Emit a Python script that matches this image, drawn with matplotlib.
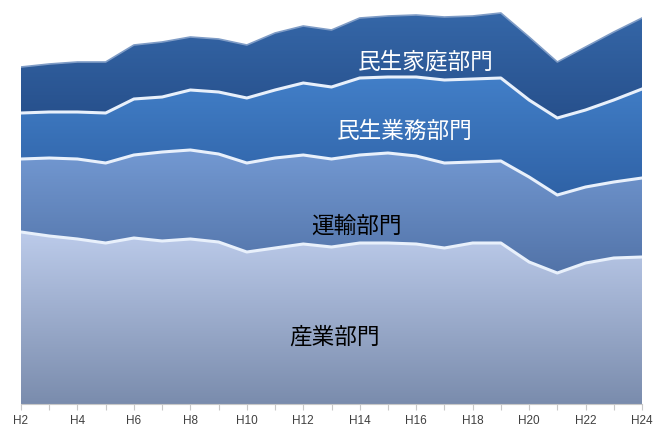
import numpy as np
import matplotlib.pyplot as plt
from matplotlib.colors import LinearSegmentedColormap

plt.rcParams['font.family'] = ['Noto Sans CJK JP', 'DejaVu Sans']

# 年度 (平成)
years = list(range(2, 25))

# 部門別の排出量 (目盛りなし、図から読み取った相対値)
sangyo = [172, 168, 165, 161, 166, 163, 165, 162, 152, 156, 160, 157,
          161, 161, 160, 156, 161, 161, 142, 131, 141, 146, 147]
unyu = [73, 78, 80, 80, 83, 89, 89, 88, 89, 90, 89, 88,
        88, 90, 88, 85, 81, 82, 85, 78, 76, 76, 79]
gyomu = [46, 46, 47, 50, 56, 55, 60, 62, 65, 68, 72, 72,
         77, 76, 79, 83, 83, 83, 77, 77, 77, 82, 89]
katei = [46, 48, 50, 51, 54, 55, 53, 53, 53, 57, 57, 57,
         60, 61, 62, 63, 63, 65, 63, 56, 63, 68, 71]

layers = [
    ("産業部門", sangyo, "#bccbea", "#7a8cad", "black", 13.1, 67),
    ("運輸部門", unyu, "#7399d2", "#5273a8", "black", 13.9, 178),
    ("民生業務部門", gyomu, "#427fc8", "#2f62a6", "white", 15.6, 273),
    ("民生家庭部門", katei, "#3567a8", "#27508c", "white", 16.35, 342),
]

x = np.array(years)
fig = plt.figure(figsize=(6.58, 4.29), dpi=100)
ax = fig.add_axes([21 / 658, 25 / 429, 621 / 658, 404 / 429])
ax.set_xlim(x[0], x[-1])
ax.set_ylim(0, 404)

base = np.zeros(len(x))
grad = np.linspace(0, 1, 256).reshape(-1, 1)
for i, (name, vals, c_top, c_bot, tcol, xt, yt) in enumerate(layers):
    top = base + np.array(vals)
    poly = ax.fill_between(x, base, top, facecolor="none", edgecolor="none")
    cmap = LinearSegmentedColormap.from_list(name, [c_bot, c_top])
    im = ax.imshow(grad, aspect="auto", cmap=cmap, origin="lower",
                   extent=[x[0], x[-1], base.min(), top.max()], zorder=1)
    im.set_clip_path(poly.get_paths()[0], transform=ax.transData)
    if i < len(layers) - 1:
        ax.plot(x, top, color="#e8f0fb", lw=2.2, zorder=3, solid_joinstyle="round")
    else:
        ax.plot(x, top, color="#7f9cc6", lw=1.2, zorder=3, solid_joinstyle="round")
    ax.text(xt, yt, name, color=tcol, fontsize=16.3, ha="center", va="center", zorder=4)
    base = top

ax.set_xticks(x)
ax.set_xticklabels([f"H{y}" if y % 2 == 0 else "" for y in years],
                   fontsize=8.5, color="#404040", family="Liberation Sans")
ax.tick_params(axis="x", length=4, color="#c8c8c8", pad=4)
ax.set_yticks([])
for s in ["top", "left", "right"]:
    ax.spines[s].set_visible(False)
ax.spines["bottom"].set_color("#c8c8c8")

fig.savefig("out.png", dpi=100)
